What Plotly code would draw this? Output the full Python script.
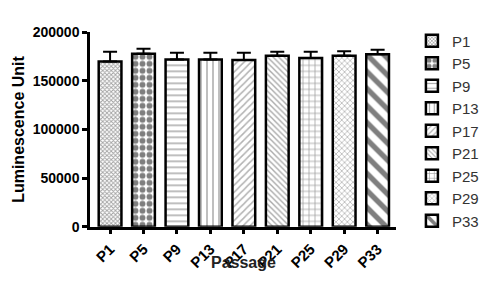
import plotly.graph_objects as go

categories = ["P1", "P5", "P9", "P13", "P17", "P21", "P25", "P29", "P33"]
values = [170000, 178000, 172000, 172000, 171500, 176000, 173500, 176000, 177500]
errors = [10000, 5000, 7000, 7000, 7500, 4000, 6500, 4500, 4500]
y_ticks = [0, 50000, 100000, 150000, 200000]

patterns = [
    dict(shape="x", size=3, solidity=0.5, fgcolor="#444444"),
    dict(shape=".", size=7, solidity=0.55, fgcolor="black"),
    dict(shape="-", size=6, solidity=0.25, fgcolor="#555555"),
    dict(shape="|", size=6, solidity=0.25, fgcolor="#555555"),
    dict(shape="/", size=5, solidity=0.3, fgcolor="#666666"),
    dict(shape="\\", size=4, solidity=0.35, fgcolor="#555555"),
    dict(shape="+", size=6, solidity=0.25, fgcolor="#444444"),
    dict(shape="x", size=4, solidity=0.35, fgcolor="#666666"),
    dict(shape="\\", size=12, solidity=0.45, fgcolor="black"),
]

FONT = "Liberation Sans, Arial, sans-serif"

W, H = 500, 287
MT, MB = 5, 40
GH = H - MT - MB
AX_TOP, AX_BOT = 25, 226  # pixel rows of the y axis ends

fig = go.Figure()
for i, c in enumerate(categories):
    p = dict(patterns[i])
    p["bgcolor"] = "white"
    fig.add_trace(go.Bar(
        x=[c], y=[values[i]], name=c, legendgroup=c,
        width=0.68,
        marker=dict(color="white", line=dict(color="black", width=2.5), pattern=p),
        error_y=dict(type="data", array=[errors[i]], arrayminus=[0], symmetric=False,
                     color="black", thickness=2, width=7),
    ))

fig.update_layout(
    width=W, height=H,
    margin=dict(l=90, r=104, t=MT, b=MB),
    paper_bgcolor="white", plot_bgcolor="white",
    font=dict(family=FONT, color="black"),
    showlegend=True,
    legend=dict(x=1.052, y=(H - MB - 17) / GH, xanchor="left", yanchor="top",
                font=dict(family=FONT, size=15, color="#333333"),
                tracegroupgap=0, itemwidth=30, bgcolor="rgba(0,0,0,0)"),
    annotations=[dict(text="Passage", xref="paper", yref="paper",
                      x=0.5, y=(H - MB - 263) / GH, xanchor="center", yanchor="middle",
                      showarrow=False,
                      font=dict(family=FONT, size=16, weight="bold", color="#222222"))],
)
fig.update_xaxes(
    type="category", categoryorder="array", categoryarray=categories,
    range=[-0.6, 8.55],
    showline=True, linecolor="black", linewidth=2.5,
    ticks="outside", ticklen=5, tickwidth=2.5, tickcolor="black",
    tickangle=-45, tickfont=dict(family=FONT, size=15, weight="bold"),
    showgrid=False, zeroline=False,
)
fig.update_yaxes(
    domain=[(H - MB - AX_BOT) / GH, (H - MB - AX_TOP) / GH],
    range=[0, 200000], tickvals=y_ticks, ticktext=[str(v) for v in y_ticks],
    showline=True, linecolor="black", linewidth=2.5,
    ticks="outside", ticklen=5, tickwidth=2.5, tickcolor="black",
    tickfont=dict(family=FONT, size=14, weight="bold"),
    title=dict(text="Luminescence Unit", font=dict(family=FONT, size=16, weight="bold"), standoff=5),
    showgrid=False, zeroline=False,
)

fig.write_html("out.html")
